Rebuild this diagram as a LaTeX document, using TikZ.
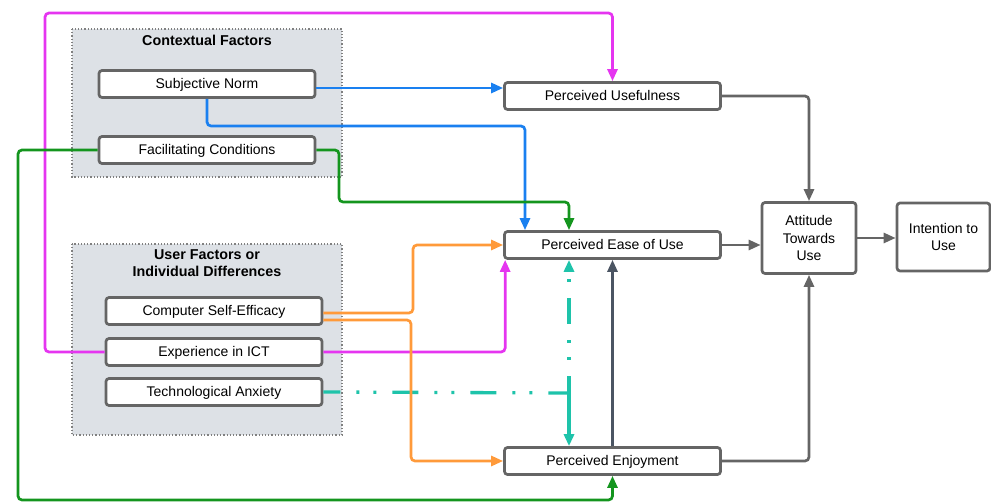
\documentclass[tikz,border=0pt]{standalone}
\usepackage{fontspec}
\setmainfont{Liberation Sans}
\usetikzlibrary{arrows.meta}
\definecolor{cmag}{HTML}{E535F0}
\definecolor{cblue}{HTML}{1A80F0}
\definecolor{cgreen}{HTML}{14951E}
\definecolor{corange}{HTML}{FF9A3A}
\definecolor{cteal}{HTML}{1EC3AA}
\definecolor{cgray}{HTML}{656565}
\definecolor{cslate}{HTML}{4B5563}
\definecolor{cgroup}{HTML}{DDE1E6}
\begin{document}
\begin{tikzpicture}[x=1pt,y=-1pt,
  boxbase/.style={draw=cgray, line width=2.7pt, rounded corners=3pt, fill=white,
    inner sep=0pt, font=\fontsize{14}{17.5}\selectfont},
  box/.style={boxbase, minimum width=216pt, minimum height=27pt,
    text height=0.98em, text depth=0.02em},
  bigbox/.style={boxbase, align=center},
  group/.style={draw=gray, dotted, line width=1.2pt, fill=cgroup},
  grouptitle/.style={font=\fontsize{14.3}{17}\selectfont\bfseries, align=center},
  link/.style={line width=2.7pt, rounded corners=4pt,
    -{Triangle[length=12pt,width=10pt]}},
  plain/.style={line width=2.7pt, rounded corners=4pt},
  dashdotdot/.style={line width=3.3pt,
    dash pattern=on 26pt off 16pt on 3pt off 14pt on 3pt off 16pt, dash phase=9pt},
]
\useasboundingbox (0,0) rectangle (991,502);

% factor groups
\draw[group] (72,29) rectangle (342,177);
\node[grouptitle] (ctitle) at (207,40) {Contextual Factors};
\draw[group] (72,244) rectangle (342,435);
\node[grouptitle] (utitle) at (207,263.5) {User Factors or\\Individual Differences};

% factor boxes
\node[box] (sn)  at (207,84)  {Subjective Norm};
\node[box] (fc)  at (207,150) {Facilitating Conditions};
\node[box] (cse) at (214,311) {Computer Self-Efficacy};
\node[box] (exp) at (214,352) {Experience in ICT};
\node[box] (ta)  at (214,392) {Technological Anxiety};

% perception boxes
\node[box] (pu)   at (612.5,96)  {Perceived Usefulness};
\node[box] (peou) at (612.5,245) {Perceived Ease of Use};
\node[box] (pe)   at (612.5,461) {Perceived Enjoyment};

% outcome boxes
\node[bigbox, minimum width=94pt, minimum height=71pt] (atu) at (809,238) {Attitude\\Towards\\Use};
\node[bigbox, minimum width=93pt, minimum height=68pt] (itu) at (943.5,237) {Intention to\\Use};

% technological anxiety (drawn first so that the orange lines pass over it)
\coordinate (tj) at (569,393);
\draw[plain,cteal,dashdotdot] (ta.east) -- (tj);
\draw[link,cteal,dashdotdot] (tj) -- (569,0 |- peou.south);
\draw[link,cteal,line width=3.3pt] (tj) -- (569,0 |- pe.north);

% experience in ICT
\draw[link,cmag] (exp.west) -| (45,13) -| (pu.north);
\draw[link,cmag] (exp.east) -| ([xshift=2pt]peou.south west);

% subjective norm
\draw[link,cblue] (sn.east |- 0,88) -- (pu.west |- 0,88);
\draw[link,cblue] (sn.south) |- (525,126) -- (525,0 |- peou.north);

% facilitating conditions
\draw[link,cgreen] (fc.west) -| (18,500) -| (pe.south);
\draw[link,cgreen] (fc.east) -| (339,202) -| (569,0 |- peou.north);

% computer self-efficacy
\draw[link,corange] (cse.east |- 0,313) -| (413,0 |- peou.west) -- (peou.west);
\draw[link,corange] (cse.east |- 0,320) -| (411,0 |- pe.west) -- (pe.west);

% enjoyment to ease of use
\draw[link,cslate] (pe.north) -- (peou.south);

% towards attitude and intention
\draw[link,cgray] (pu.east) -| (atu.north);
\draw[link,cgray] (peou.east) -- (atu.west |- peou.east);
\draw[link,cgray] (pe.east) -| (atu.south);
\draw[link,cgray] (atu.east) -- (itu.west |- atu.east);
\end{tikzpicture}
\end{document}
